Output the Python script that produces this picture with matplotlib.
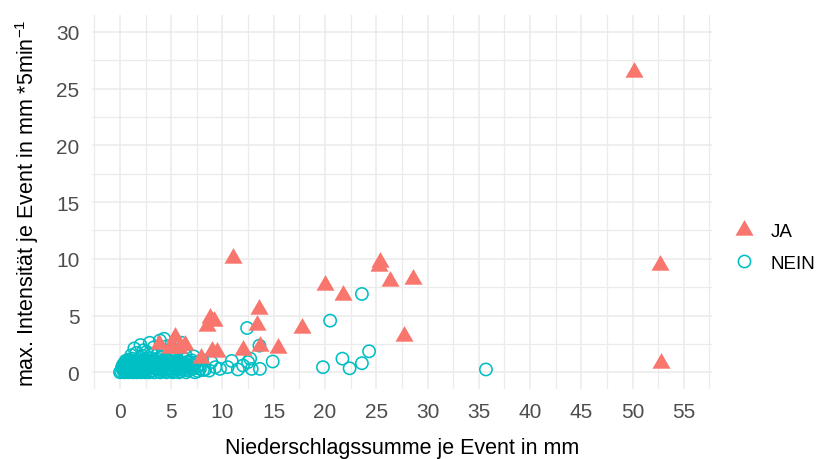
import matplotlib
matplotlib.use('Agg')
import matplotlib.pyplot as plt
from matplotlib.lines import Line2D
from matplotlib.path import Path
from matplotlib.ticker import MultipleLocator

plt.rcParams['font.family'] = ['Liberation Sans', 'DejaVu Sans']
plt.rcParams['mathtext.fontset'] = 'custom'
plt.rcParams['mathtext.rm'] = 'Liberation Sans'
plt.rcParams['mathtext.it'] = 'Liberation Sans'

# Events mit Überschreitung (JA)
ja_x = [50.1, 52.7, 52.8, 11.05, 25.4, 25.3, 26.3, 28.6, 20.0, 21.8, 27.7, 13.6, 13.4,
        17.75, 8.5, 8.8, 9.2, 12.0, 13.65, 15.4, 8.95, 9.45, 7.9, 3.85, 5.4, 4.9, 5.8,
        6.3, 5.0]
ja_y = [26.45, 9.45, 0.85, 10.05, 9.7, 9.4, 8.0, 8.2, 7.7, 6.85, 3.2, 5.6, 4.2,
        3.9, 4.1, 4.8, 4.5, 2.0, 2.3, 2.15, 1.9, 1.75, 1.3, 2.5, 3.15, 2.1, 2.15,
        2.4, 2.35]

# Events ohne Überschreitung (NEIN)
nein_x = [
    0.1, 0.3, 0.5, 0.7, 0.9, 1.1, 1.3, 1.5, 1.7, 1.9, 2.1, 2.3, 2.5, 2.7, 2.9, 3.2,
    3.5, 3.8, 4.1, 4.4, 4.7, 5.0, 5.3, 5.6, 5.9, 6.3, 6.7, 7.1, 7.6, 8.1, 8.7,
    0.0, 0.25, 0.45, 0.65, 0.85, 1.05, 1.25, 1.45, 1.65, 1.85, 2.05, 2.25, 2.45, 2.65,
    2.85, 3.05, 3.35, 3.65, 3.95, 4.25, 4.55, 4.85, 5.15, 5.45, 5.75, 6.05, 6.45, 6.85,
    7.3, 7.8,
    0.2, 0.4, 0.6, 0.8, 1.0, 1.2, 1.4, 1.6, 1.8, 2.0, 2.2, 2.4, 2.7, 3.0, 3.3, 3.6,
    3.9, 4.2, 4.6, 5.0, 5.4, 5.8, 6.2, 6.6, 7.0, 7.5,
    0.3, 0.55, 0.85, 1.15, 1.45, 1.75, 2.05, 2.35, 2.65, 2.95, 3.25, 3.55, 3.85, 4.15,
    4.5, 4.9, 5.3, 5.7, 6.1, 6.5, 6.9, 7.3,
    0.4, 0.7, 1.0, 1.3, 1.6, 1.9, 2.2, 2.5, 2.8, 3.1, 3.4, 3.7, 4.0, 4.4, 4.8, 5.2,
    5.7, 6.2, 6.8, 7.4,
    0.8, 1.2, 1.6, 2.0, 2.4, 2.8, 3.2, 3.6, 4.0, 4.5, 5.0, 5.6, 6.3, 7.0,
    1.1, 1.6, 2.1, 2.6, 3.1, 3.6, 4.2, 4.8, 5.5, 6.4,
    1.4, 2.0, 2.3, 2.9, 3.3, 3.9, 4.3, 4.6, 5.2, 6.0,
    7.8, 8.3, 8.9, 9.3, 9.75, 10.5, 10.9, 11.5, 12.0, 12.7, 12.85, 13.65, 13.6, 14.9,
    12.4, 19.8, 20.5, 21.7, 22.4, 23.6, 24.3, 23.6, 35.7, 7.2, 8.0, 12.5]
nein_y = [
    0.1, 0.2, 0.05, 0.15, 0.25, 0.1, 0.2, 0.05, 0.15, 0.3, 0.1, 0.2, 0.05, 0.25, 0.1, 0.15,
    0.3, 0.05, 0.2, 0.1, 0.25, 0.15, 0.05, 0.3, 0.1, 0.2, 0.15, 0.3, 0.1, 0.2, 0.15,
    0.0, 0.3, 0.0, 0.35, 0.0, 0.3, 0.0, 0.35, 0.0, 0.3, 0.0, 0.35, 0.0, 0.3,
    0.0, 0.35, 0.0, 0.3, 0.0, 0.35, 0.0, 0.3, 0.0, 0.35, 0.0, 0.3, 0.0, 0.35,
    0.0, 0.3,
    0.45, 0.55, 0.4, 0.6, 0.5, 0.4, 0.55, 0.45, 0.6, 0.4, 0.5, 0.6, 0.45, 0.55, 0.4, 0.5,
    0.6, 0.45, 0.55, 0.4, 0.5, 0.6, 0.45, 0.55, 0.4, 0.5,
    0.65, 1.0, 0.65, 1.0, 0.65, 1.0, 0.65, 1.0, 0.65, 1.0, 0.65, 1.0, 0.65, 1.0,
    0.65, 1.0, 0.65, 0.95, 0.65, 0.9, 0.65, 0.7,
    0.75, 0.85, 0.7, 0.9, 0.8, 0.75, 0.95, 0.85, 0.7, 0.9, 0.8, 0.75, 0.9, 0.85, 0.7, 0.95,
    0.8, 0.75, 0.9, 0.85,
    1.1, 1.2, 1.05, 1.3, 1.15, 1.25, 1.05, 1.2, 1.3, 1.1, 1.2, 1.0, 1.15, 1.05,
    1.5, 1.7, 1.45, 1.8, 1.6, 1.5, 1.75, 1.45, 1.6, 1.5,
    2.1, 2.4, 1.95, 2.6, 2.2, 2.8, 2.95, 2.3, 2.0, 2.6,
    0.6, 0.25, 0.9, 0.45, 0.3, 0.45, 1.0, 0.25, 0.6, 1.2, 0.3, 0.3, 2.35, 0.95,
    3.9, 0.45, 4.55, 1.2, 0.35, 0.8, 1.85, 6.9, 0.25, 1.4, 1.1, 0.9]

x_ticks = [0, 5, 10, 15, 20, 25, 30, 35, 40, 45, 50, 55]
y_ticks = [0, 5, 10, 15, 20, 25, 30]

col_ja = '#F8766D'
col_nein = '#00BFC4'
tri = Path([(0, 1), (-0.866, -0.5), (0.866, -0.5), (0, 1)],
           [Path.MOVETO, Path.LINETO, Path.LINETO, Path.CLOSEPOLY])

fig = plt.figure(figsize=(8.16, 4.6), dpi=100)
ax = fig.add_axes([0.1125, 0.1515, 0.76, 0.8142])

ax.scatter(nein_x, nein_y, s=78, facecolors='none', edgecolors=col_nein,
           linewidths=1.15, marker='o', zorder=3)
ax.scatter(ja_x, ja_y, s=225, color=col_ja, marker=tri, linewidths=0, zorder=4)

ax.set_xlim(-2.75, 57.75)
ax.set_ylim(-1.5, 31.5)
ax.set_xticks(x_ticks)
ax.set_yticks(y_ticks)
ax.xaxis.set_minor_locator(MultipleLocator(2.5))
ax.yaxis.set_minor_locator(MultipleLocator(2.5))
ax.grid(which='major', color='#EBEBEB', lw=1.1)
ax.grid(which='minor', color='#EBEBEB', lw=0.9)
ax.set_axisbelow(True)
for s in ax.spines.values():
    s.set_visible(False)
ax.tick_params(which='both', length=0, labelsize=15, labelcolor='#4D4D4D')
ax.tick_params(axis='x', pad=9)
ax.tick_params(axis='y', pad=9)

ax.set_xlabel('Niederschlagssumme je Event in mm', fontsize=15.5, labelpad=12)
ax.set_ylabel('max. Intensität je Event in mm *5min$^{-1}$', fontsize=15.5, labelpad=11)

handles = [Line2D([], [], ls='none', marker=tri, ms=15, color=col_ja, mew=0),
           Line2D([], [], ls='none', marker='o', ms=8.8, mfc='none', mec=col_nein, mew=1.15)]
fig.legend(handles, ['JA', 'NEIN'], loc='center left', bbox_to_anchor=(0.877, 0.46),
           frameon=False, fontsize=13.5, handletextpad=0.85, labelspacing=0.75,
           handlelength=1.2)

plt.savefig('out.png', dpi=100)
